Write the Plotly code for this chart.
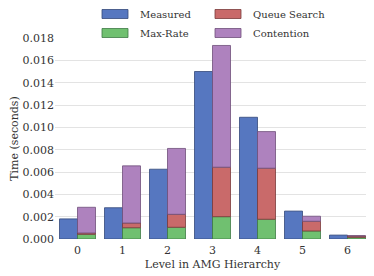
import plotly.graph_objects as go

levels = ["0", "1", "2", "3", "4", "5", "6"]
measured = [0.0018, 0.0028, 0.00625, 0.0150, 0.0109, 0.0025, 0.00035]
max_rate = [0.00042, 0.00101, 0.00105, 0.0020, 0.00177, 0.00072, 0.00015]
queue_search = [0.00012, 0.00042, 0.00116, 0.00443, 0.00457, 0.00087, 0.00012]
contention = [0.0023, 0.00512, 0.0059, 0.0109, 0.00328, 0.00045, 0.00002]

series_names = ["Measured", "Max-Rate", "Queue Search", "Contention"]
fill = {"Measured": "#5677C0", "Max-Rate": "#70C070", "Queue Search": "#C96A6A", "Contention": "#AE82BE"}
edge = {"Measured": "#34497A", "Max-Rate": "#3E7A44", "Queue Search": "#7A3A3A", "Contention": "#6E4F7A"}

FONT = "DejaVu Serif"
OFF = 8  # page body margin
W, H = 374 - OFF, 276 - OFF
L, R, T, B = 55 - OFF, 4, 38 - OFF, 37

x = list(range(len(levels)))
base_q = [a for a in max_rate]
base_c = [a + b for a, b in zip(max_rate, queue_search)]

fig = go.Figure()
fig.add_bar(x=x, y=measured, width=0.4, offset=-0.4, name="Measured",
            marker=dict(color=fill["Measured"], line=dict(color=edge["Measured"], width=0.8)))
fig.add_bar(x=x, y=max_rate, width=0.4, offset=0, name="Max-Rate",
            marker=dict(color=fill["Max-Rate"], line=dict(color=edge["Max-Rate"], width=0.8)))
fig.add_bar(x=x, y=queue_search, base=base_q, width=0.4, offset=0, name="Queue Search",
            marker=dict(color=fill["Queue Search"], line=dict(color=edge["Queue Search"], width=0.8)))
fig.add_bar(x=x, y=contention, base=base_c, width=0.4, offset=0, name="Contention",
            marker=dict(color=fill["Contention"], line=dict(color=edge["Contention"], width=0.8)))

# custom legend (matplotlib-style wide swatches), 2 columns; positions in reference pixels
pw = W - L - R
ph = H - T - B
def px_x(p):
    return (p - OFF - L) / pw
def px_y(p):
    return (H - B - (p - OFF)) / ph

legend_layout = [("Measured", 102, 14), ("Queue Search", 215, 14),
                 ("Max-Rate", 102, 33), ("Contention", 215, 33)]
for name, sx, cy in legend_layout:
    fig.add_shape(type="rect", xref="paper", yref="paper",
                  x0=px_x(sx), x1=px_x(sx + 26), y0=px_y(cy + 4.5), y1=px_y(cy - 4.5),
                  fillcolor=fill[name], line=dict(color=edge[name], width=0.8))
    fig.add_annotation(xref="paper", yref="paper", x=px_x(sx + 36), y=px_y(cy),
                       text=name, showarrow=False, xanchor="left", yanchor="middle",
                       font=dict(family=FONT, size=10, color="#333333"))

fig.update_layout(
    width=W, height=H,
    margin=dict(l=L, r=R, t=T, b=B, autoexpand=False),
    barmode="overlay",
    showlegend=False,
    plot_bgcolor="white", paper_bgcolor="white",
    font=dict(family=FONT, size=11, color="#333333"),
    xaxis=dict(tickmode="array", tickvals=x, ticktext=levels, range=[-0.5, 6.5],
               showgrid=False, zeroline=False, showline=False, ticks="",
               ticklabelstandoff=3, automargin=False,
               title=dict(text="Level in AMG Hierarchy", standoff=4, font=dict(size=11))),
    yaxis=dict(range=[0, 0.018], dtick=0.002, tickformat=".3f",
               showgrid=True, gridcolor="#E3E3E3", gridwidth=1, zeroline=False,
               showline=False, ticks="", automargin=False,
               title=dict(text="Time (seconds)", standoff=6, font=dict(size=11))),
)

fig.write_html("out.html")
